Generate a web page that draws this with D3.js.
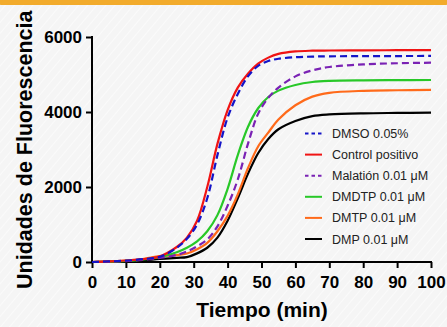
<!DOCTYPE html>
<html>
<head>
<meta charset="utf-8">
<script src="https://cdn.jsdelivr.net/npm/d3@7"></script>
<style>
  html, body { margin: 0; padding: 0; background: #f7f7f7; }
  svg { display: block; }
</style>
</head>
<body>
<svg id="chart"></svg>
<script>
// sample times (min), shared by every series
const times = [0, 5, 10, 15, 20, 25, 28, 31, 34, 37, 40, 43, 46, 49, 52, 55, 60, 65, 70, 80, 90, 100];

const dmso      = [0, 15, 35, 75, 140, 380, 620, 1000, 1700, 2850, 3850, 4480, 4950, 5230, 5360, 5420, 5460, 5478, 5485, 5490, 5492, 5495];
const control   = [0, 15, 40, 75, 150, 400, 650, 1100, 2000, 3150, 4050, 4650, 5020, 5290, 5450, 5550, 5615, 5635, 5640, 5645, 5648, 5650];
const malation  = [0, 10, 25, 55, 110, 190, 280, 420, 600, 950, 1500, 2200, 3150, 3950, 4380, 4650, 4950, 5110, 5200, 5270, 5300, 5315];
const dmdtp     = [0, 12, 30, 65, 130, 260, 380, 550, 820, 1250, 1950, 2850, 3600, 4100, 4400, 4570, 4720, 4800, 4830, 4845, 4850, 4853];
const dmtp      = [0, 15, 35, 80, 155, 185, 225, 340, 510, 820, 1230, 1800, 2500, 3080, 3450, 3800, 4180, 4410, 4510, 4565, 4580, 4588];
const dmp       = [0, 8, 20, 45, 80, 110, 130, 230, 380, 650, 1100, 1700, 2350, 2900, 3280, 3540, 3760, 3890, 3935, 3965, 3975, 3982];

const seriesNames = ['DMSO 0.05%', 'Control positivo', 'Malatión 0.01 \u03bcM', 'DMDTP 0.01 \u03bcM', 'DMTP 0.01 \u03bcM', 'DMP 0.01 \u03bcM'];
const seriesValues = [dmso, control, malation, dmdtp, dmtp, dmp];
const seriesColors = ['#1414c8', '#f01414', '#7a22b4', '#28c828', '#ff6a1a', '#000000'];
const seriesDashed = [true, false, true, false, false, false];

const xTicks = [0, 10, 20, 30, 40, 50, 60, 70, 80, 90, 100];
const yTicks = [0, 2000, 4000, 6000];

const width = 447;
const height = 327;
const font = '"Liberation Sans", Arial, Helvetica, sans-serif';

const svg = d3.select('#chart').attr('width', width).attr('height', height);

// background with faint diagonal stripes
const defs = svg.append('defs');
const pat = defs.append('pattern')
  .attr('id', 'stripes')
  .attr('width', 7)
  .attr('height', 7)
  .attr('patternUnits', 'userSpaceOnUse')
  .attr('patternTransform', 'rotate(40)');
pat.append('line')
  .attr('x1', 0).attr('y1', 0).attr('x2', 0).attr('y2', 7)
  .attr('stroke', '#ffffff')
  .attr('stroke-width', 2);

svg.append('rect').attr('width', width).attr('height', height).attr('fill', '#f5f5f5');
svg.append('rect').attr('width', width).attr('height', height).attr('fill', 'url(#stripes)').attr('opacity', 0.55);

// orange banner along the top
svg.append('rect')
  .attr('x', -4).attr('y', -12)
  .attr('width', width + 8).attr('height', 17)
  .attr('rx', 6)
  .attr('fill', '#f2ab2c');

const x = d3.scaleLinear().domain([0, 100]).range([92, 431]);
const y = d3.scaleLinear().domain([0, 6000]).range([262, 37]);

// axes
const xAxis = svg.append('g')
  .attr('transform', `translate(0,${y(0)})`)
  .call(d3.axisBottom(x).tickValues(xTicks).tickSize(6).tickPadding(8).tickSizeOuter(0));

const yAxis = svg.append('g')
  .attr('transform', `translate(${x(0)},0)`)
  .call(d3.axisLeft(y).tickValues(yTicks).tickFormat(d3.format('d')).tickSize(6).tickPadding(4).tickSizeOuter(0));

[xAxis, yAxis].forEach((g) => {
  g.select('.domain').attr('stroke', '#000').attr('stroke-width', 2);
  g.selectAll('.tick line').attr('stroke', '#000').attr('stroke-width', 2);
  g.selectAll('.tick text')
    .attr('fill', '#000')
    .attr('font-family', font)
    .attr('font-weight', 'bold')
    .attr('font-size', '17px');
});
xAxis.select('.domain').attr('d', `M${x(0) - 1},0H${x(100) + 1}`);
yAxis.select('.domain').attr('d', `M0,${y(6000) - 1}V${y(0) + 1}`);

// axis titles
svg.append('text')
  .attr('x', 262)
  .attr('y', 317)
  .attr('text-anchor', 'middle')
  .attr('font-family', font)
  .attr('font-weight', 'bold')
  .attr('font-size', '21px')
  .attr('fill', '#000')
  .text('Tiempo (min)');

svg.append('text')
  .attr('transform', 'translate(32,289) rotate(-90)')
  .attr('text-anchor', 'start')
  .attr('font-family', font)
  .attr('font-weight', 'bold')
  .attr('font-size', '21.5px')
  .attr('fill', '#000')
  .text('Unidades de Fluorescencia');

// curves
const line = d3.line()
  .x((d) => x(d.t))
  .y((d) => y(d.v))
  .curve(d3.curveCatmullRom.alpha(0.5));

const drawOrder = [5, 4, 3, 2, 1, 0];
drawOrder.forEach((i) => {
  const pts = times.map((t, j) => ({ t: t, v: seriesValues[i][j] }));
  svg.append('path')
    .datum(pts)
    .attr('fill', 'none')
    .attr('stroke', seriesColors[i])
    .attr('stroke-width', 2.2)
    .attr('stroke-dasharray', seriesDashed[i] ? '7,4' : null)
    .attr('d', line);
});

// legend
const legend = svg.append('g');
seriesNames.forEach((name, i) => {
  const ly = 133.5 + i * 21.1;
  legend.append('line')
    .attr('x1', 305).attr('x2', 322)
    .attr('y1', ly).attr('y2', ly)
    .attr('stroke', seriesColors[i])
    .attr('stroke-width', 2)
    .attr('stroke-dasharray', seriesDashed[i] ? '3.5,3' : null);
  legend.append('text')
    .attr('x', 332)
    .attr('y', ly)
    .attr('dy', '0.36em')
    .attr('font-family', font)
    .attr('font-size', '12.5px')
    .attr('fill', '#222')
    .text(name);
});
</script>
</body>
</html>
